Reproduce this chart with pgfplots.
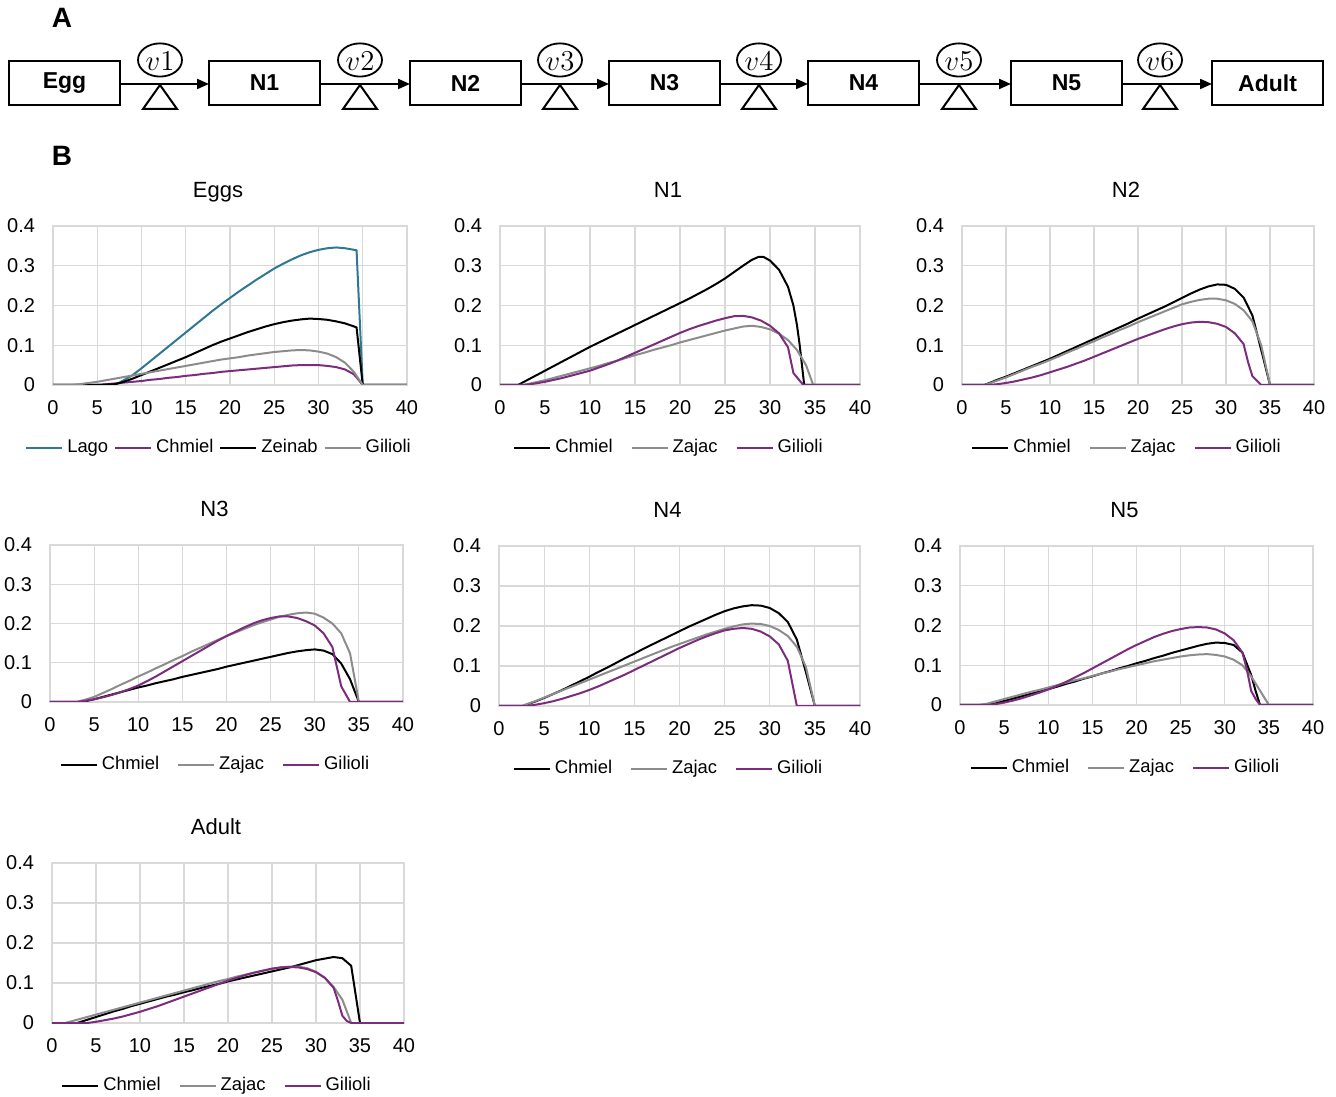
\documentclass[border=0pt]{standalone}
\usepackage{fontspec}
\setmainfont{Liberation Sans}
\usepackage{pgfplots}
\pgfplotsset{compat=1.18}
\usetikzlibrary{arrows.meta}
\definecolor{gridc}{HTML}{D9D9D9}
\definecolor{lago}{HTML}{2F7893}
\definecolor{purp}{HTML}{7B2C7E}
\definecolor{grayc}{HTML}{8C8C8C}
\pgfplotsset{
  stage/.style={
    scale only axis, anchor=south west,
    xmin=0, xmax=40, ymin=0, ymax=0.4,
    xtick={0,5,...,40}, ytick={0,0.1,0.2,0.3,0.4},
    grid=major, grid style={draw=gridc, line width=0.6pt},
    axis line style={draw=gridc, line width=0.6pt},
    major tick length=0pt,
    no markers,
    /pgf/number format/assume math mode=true,
    tick label style={font=\fontsize{10}{12}\selectfont},
    xticklabel style={yshift=-4.2pt},
    yticklabel style={xshift=-5.5pt},
    title style={at={(0.5,1)}, anchor=base, xshift=-6pt, yshift=8.3pt, font=\fontsize{11}{13}\selectfont},
    legend style={at={(0.5,0)}, anchor=north, xshift=-5pt, yshift=-25pt, draw=none, fill=none,
      inner sep=0pt, legend columns=-1, font=\fontsize{9.2}{11}\selectfont,
      /tikz/every even column/.append style={column sep=7pt}},
    legend image code/.code={\draw[#1] (0pt,0pt) -- (18pt,0pt);},
    every axis plot/.append style={line width=1pt, line join=round},
  }
}
\begin{document}
\begin{tikzpicture}
\useasboundingbox (0,0) rectangle (668pt,548pt);
% ---------- panel A: stage diagram ----------
\begin{scope}[yshift=548pt, x=0.5pt, y=-0.5pt]
  \node[font=\fontsize{14}{16}\selectfont\bfseries] at (62,18) {A};
  \node[font=\fontsize{14}{16}\selectfont\bfseries] at (62,156) {B};
  \foreach \bx/\lab in {9/Egg,209/N1,410/N2,609/N3,808/N4,1011/N5,1212/Adult}{
    \draw[line width=1pt] (\bx,61) rectangle ({\bx+111},105);
    \node[font=\fontsize{11.5}{13}\selectfont\bfseries] at ({\bx+55.5},83) {\lab};
  }
  \foreach \ax/\bx in {120/209,320/410,521/609,720/808,919/1011,1122/1212}{
    \draw[line width=1pt,-{Triangle[length=6pt,width=5pt]}] (\ax,84) -- (\bx,84);
  }
  \foreach \cx/\v in {160/1,360/2,560/3,759/4,959/5,1160/6}{
    \draw[line width=0.9pt] (\cx,60) ellipse [x radius=11pt, y radius=8.3pt];
    \node[font=\fontsize{14}{16}\selectfont] at (\cx,61) {$v\v$};
    \draw[line width=1pt, line join=miter] (\cx,85) -- ({\cx-17},109) -- ({\cx+17},109) -- cycle;
  }
\end{scope}
% ---------- Eggs ----------
\begin{axis}[stage, at={(26.5pt,355.5pt)}, width=177pt, height=79.5pt, title={Eggs},
  legend style={/tikz/every even column/.append style={column sep=1pt}}]
\addplot[lago] coordinates {(0,0)(7,0)(8,0.012)(9,0.025)(10,0.042)(11,0.06)(12,0.078)(13,0.096)(14,0.114)(15,0.132)(16,0.15)(17,0.168)(18,0.186)(19,0.203)(20,0.219)(21,0.235)(22,0.25)(23,0.265)(24,0.279)(25,0.293)(26,0.305)(27,0.316)(28,0.326)(29,0.334)(30,0.34)(31,0.344)(32,0.346)(33,0.344)(34.3,0.339)(35,0)(40,0)};
\addlegendentry{Lago}
\addplot[purp] coordinates {(0,0)(5,0)(6,0.002)(7,0.004)(8,0.006)(9,0.008)(10,0.01)(11,0.013)(12,0.015)(13,0.018)(14,0.02)(15,0.023)(16,0.025)(17,0.028)(18,0.03)(19,0.033)(20,0.035)(21,0.037)(22,0.039)(23,0.041)(24,0.043)(25,0.045)(26,0.047)(27,0.049)(28,0.05)(29,0.05)(30,0.05)(31,0.048)(32,0.045)(33,0.039)(34,0.027)(35,0)(40,0)};
\addlegendentry{Chmiel}
\addplot[black] coordinates {(0,0)(5,0)(7,0.002)(8,0.008)(9,0.016)(10,0.025)(11,0.034)(12,0.043)(13,0.052)(14,0.061)(15,0.07)(16,0.08)(17,0.09)(18,0.1)(19,0.109)(20,0.117)(21,0.125)(22,0.133)(23,0.14)(24,0.147)(25,0.153)(26,0.158)(27,0.162)(28,0.165)(29,0.167)(30,0.166)(31,0.164)(32,0.16)(33,0.155)(34.3,0.145)(35,0)(40,0)};
\addlegendentry{Zeinab}
\addplot[grayc] coordinates {(0,0)(2,0)(3,0.002)(4,0.005)(5,0.008)(6,0.012)(7,0.016)(8,0.02)(9,0.024)(10,0.028)(11,0.032)(12,0.036)(13,0.04)(14,0.044)(15,0.048)(16,0.052)(17,0.056)(18,0.06)(19,0.064)(20,0.067)(21,0.07)(22,0.074)(23,0.077)(24,0.08)(25,0.083)(26,0.085)(27,0.087)(28,0.088)(29,0.087)(30,0.084)(31,0.079)(32,0.07)(33,0.056)(34,0.033)(35,0)(40,0)};
\addlegendentry{Gilioli}
\end{axis}
% ---------- N1 ----------
\begin{axis}[stage, at={(250pt,355.5pt)}, width=180pt, height=79.5pt, title={N1}]
\addplot[black] coordinates {(0,0)(2,0)(3,0.012)(4,0.024)(5,0.036)(6,0.048)(7,0.06)(8,0.072)(9,0.084)(10,0.096)(11,0.107)(12,0.118)(13,0.129)(14,0.14)(15,0.151)(16,0.162)(17,0.173)(18,0.184)(19,0.195)(20,0.206)(21,0.217)(22,0.229)(23,0.241)(24,0.254)(25,0.268)(26,0.284)(27,0.3)(28,0.315)(28.7,0.322)(29.3,0.322)(30,0.313)(31,0.29)(32,0.247)(32.6,0.2)(33,0.15)(33.3,0.1)(33.8,0)(40,0)};
\addlegendentry{Chmiel}
\addplot[grayc] coordinates {(0,0)(2.5,0)(3,0.002)(4,0.007)(5,0.012)(6,0.018)(7,0.024)(8,0.03)(9,0.036)(10,0.042)(11,0.048)(12,0.055)(13,0.061)(14,0.068)(15,0.075)(16,0.081)(17,0.088)(18,0.094)(19,0.1)(20,0.107)(21,0.113)(22,0.119)(23,0.125)(24,0.131)(25,0.137)(26,0.142)(27,0.147)(28,0.149)(29,0.146)(30,0.14)(31,0.129)(32,0.113)(33,0.088)(34,0.05)(34.8,0)(40,0)};
\addlegendentry{Zajac}
\addplot[purp] coordinates {(0,0)(2.5,0)(3,0.001)(4,0.004)(5,0.008)(6,0.013)(7,0.018)(8,0.024)(9,0.03)(10,0.036)(11,0.044)(12,0.052)(13,0.061)(14,0.071)(15,0.081)(16,0.091)(17,0.101)(18,0.111)(19,0.121)(20,0.131)(21,0.14)(22,0.148)(23,0.155)(24,0.162)(25,0.168)(26,0.173)(27,0.174)(28,0.17)(29,0.162)(30,0.149)(31,0.13)(32,0.095)(32.6,0.03)(33.7,0)(40,0)};
\addlegendentry{Gilioli}
\end{axis}
% ---------- N2 ----------
\begin{axis}[stage, at={(481pt,355.5pt)}, width=176pt, height=79.5pt, title={N2}]
\addplot[black] coordinates {(0,0)(2.5,0)(3,0.004)(4,0.013)(5,0.021)(6,0.03)(7,0.039)(8,0.048)(9,0.057)(10,0.066)(11,0.076)(12,0.086)(13,0.096)(14,0.106)(15,0.116)(16,0.126)(17,0.136)(18,0.146)(19,0.156)(20,0.167)(21,0.177)(22,0.187)(23,0.197)(24,0.208)(25,0.219)(26,0.23)(27,0.24)(28,0.248)(29,0.253)(30,0.252)(31,0.242)(32,0.22)(33,0.175)(34,0.088)(35,0)(40,0)};
\addlegendentry{Chmiel}
\addplot[grayc] coordinates {(0,0)(2.5,0)(3,0.003)(4,0.011)(5,0.019)(6,0.028)(7,0.037)(8,0.046)(9,0.054)(10,0.063)(11,0.072)(12,0.082)(13,0.091)(14,0.101)(15,0.11)(16,0.12)(17,0.129)(18,0.139)(19,0.148)(20,0.158)(21,0.167)(22,0.176)(23,0.185)(24,0.194)(25,0.203)(26,0.209)(27,0.214)(28,0.217)(29,0.217)(30,0.213)(31,0.204)(32,0.188)(33,0.16)(34,0.1)(35,0)(40,0)};
\addlegendentry{Zajac}
\addplot[purp] coordinates {(0,0)(3,0)(4,0.002)(5,0.005)(6,0.009)(7,0.014)(8,0.019)(9,0.025)(10,0.032)(11,0.039)(12,0.046)(13,0.054)(14,0.062)(15,0.071)(16,0.08)(17,0.089)(18,0.098)(19,0.107)(20,0.116)(21,0.124)(22,0.132)(23,0.14)(24,0.147)(25,0.153)(26,0.157)(27,0.159)(28,0.158)(29,0.154)(30,0.146)(31,0.13)(32,0.103)(32.5,0.058)(33,0.022)(34,0)(40,0)};
\addlegendentry{Gilioli}
\end{axis}
% ---------- N3 ----------
\begin{axis}[stage, at={(25pt,197pt)}, width=176.5pt, height=78.5pt, title={N3}]
\addplot[black] coordinates {(0,0)(3.5,0)(4,0.002)(5,0.007)(6,0.013)(7,0.019)(8,0.025)(9,0.031)(10,0.037)(11,0.042)(12,0.048)(13,0.053)(14,0.058)(15,0.064)(16,0.069)(17,0.074)(18,0.079)(19,0.084)(20,0.09)(21,0.095)(22,0.1)(23,0.105)(24,0.11)(25,0.115)(26,0.12)(27,0.125)(28,0.129)(29,0.132)(30,0.134)(31,0.131)(32,0.122)(33,0.098)(34,0.058)(35,0)(40,0)};
\addlegendentry{Chmiel}
\addplot[grayc] coordinates {(0,0)(3,0)(4,0.006)(5,0.013)(6,0.023)(7,0.033)(8,0.044)(9,0.054)(10,0.065)(11,0.075)(12,0.086)(13,0.096)(14,0.107)(15,0.117)(16,0.128)(17,0.138)(18,0.148)(19,0.158)(20,0.168)(21,0.177)(22,0.186)(23,0.195)(24,0.203)(25,0.21)(26,0.217)(27,0.222)(28,0.226)(29,0.228)(30,0.225)(31,0.215)(32,0.2)(33,0.175)(34,0.124)(35,0)(40,0)};
\addlegendentry{Zajac}
\addplot[purp] coordinates {(0,0)(3,0)(4,0.003)(5,0.007)(6,0.012)(7,0.018)(8,0.025)(9,0.033)(10,0.042)(11,0.053)(12,0.065)(13,0.078)(14,0.091)(15,0.104)(16,0.117)(17,0.13)(18,0.143)(19,0.156)(20,0.168)(21,0.179)(22,0.19)(23,0.2)(24,0.208)(25,0.214)(26,0.218)(27,0.218)(28,0.214)(29,0.206)(30,0.195)(31,0.175)(32,0.14)(32.5,0.09)(33,0.04)(34,0)(40,0)};
\addlegendentry{Gilioli}
\end{axis}
% ---------- N4 ----------
\begin{axis}[stage, at={(249.5pt,195pt)}, width=180.5pt, height=80pt, title={N4}]
\addplot[black] coordinates {(0,0)(2.8,0)(3,0.003)(4,0.011)(5,0.02)(6,0.03)(7,0.04)(8,0.051)(9,0.062)(10,0.073)(11,0.085)(12,0.096)(13,0.108)(14,0.12)(15,0.131)(16,0.143)(17,0.154)(18,0.165)(19,0.176)(20,0.187)(21,0.198)(22,0.208)(23,0.218)(24,0.228)(25,0.237)(26,0.244)(27,0.249)(28,0.252)(29,0.251)(30,0.245)(31,0.232)(32,0.21)(33,0.166)(34,0.085)(35,0)(40,0)};
\addlegendentry{Chmiel}
\addplot[grayc] coordinates {(0,0)(2.5,0)(3,0.004)(4,0.012)(5,0.021)(6,0.03)(7,0.039)(8,0.048)(9,0.057)(10,0.066)(11,0.075)(12,0.084)(13,0.093)(14,0.102)(15,0.111)(16,0.12)(17,0.129)(18,0.138)(19,0.147)(20,0.155)(21,0.163)(22,0.171)(23,0.179)(24,0.186)(25,0.193)(26,0.199)(27,0.204)(28,0.206)(29,0.205)(30,0.2)(31,0.19)(32,0.175)(33,0.148)(34,0.098)(35,0)(40,0)};
\addlegendentry{Zajac}
\addplot[purp] coordinates {(0,0)(3,0)(4,0.003)(5,0.007)(6,0.012)(7,0.018)(8,0.025)(9,0.032)(10,0.04)(11,0.049)(12,0.059)(13,0.069)(14,0.079)(15,0.09)(16,0.101)(17,0.112)(18,0.123)(19,0.134)(20,0.145)(21,0.155)(22,0.165)(23,0.174)(24,0.182)(25,0.189)(26,0.193)(27,0.195)(28,0.193)(29,0.186)(30,0.174)(31,0.154)(32,0.113)(33,0)(40,0)};
\addlegendentry{Gilioli}
\end{axis}
% ---------- N5 ----------
\begin{axis}[stage, at={(480pt,195.5pt)}, width=176.5pt, height=79.5pt, title={N5}]
\addplot[black] coordinates {(0,0)(3,0)(4,0.004)(5,0.01)(6,0.016)(7,0.022)(8,0.028)(9,0.034)(10,0.04)(11,0.046)(12,0.053)(13,0.059)(14,0.066)(15,0.072)(16,0.079)(17,0.085)(18,0.092)(19,0.098)(20,0.105)(21,0.111)(22,0.118)(23,0.124)(24,0.131)(25,0.137)(26,0.143)(27,0.149)(28,0.154)(29,0.157)(30,0.156)(31,0.151)(32,0.132)(33,0.075)(33.5,0.035)(34,0)(40,0)};
\addlegendentry{Chmiel}
\addplot[grayc] coordinates {(0,0)(2,0)(3,0.003)(4,0.009)(5,0.015)(6,0.021)(7,0.027)(8,0.033)(9,0.038)(10,0.044)(11,0.05)(12,0.056)(13,0.062)(14,0.067)(15,0.073)(16,0.079)(17,0.084)(18,0.09)(19,0.095)(20,0.1)(21,0.105)(22,0.11)(23,0.114)(24,0.118)(25,0.122)(26,0.125)(27,0.127)(28,0.128)(29,0.126)(30,0.122)(31,0.114)(32,0.1)(33,0.072)(34,0.036)(35,0)(40,0)};
\addlegendentry{Zajac}
\addplot[purp] coordinates {(0,0)(3,0)(4,0.002)(5,0.006)(6,0.011)(7,0.017)(8,0.024)(9,0.031)(10,0.039)(11,0.048)(12,0.058)(13,0.069)(14,0.08)(15,0.092)(16,0.104)(17,0.116)(18,0.128)(19,0.14)(20,0.151)(21,0.161)(22,0.171)(23,0.179)(24,0.186)(25,0.191)(26,0.195)(27,0.196)(28,0.195)(29,0.19)(30,0.18)(31,0.163)(32,0.132)(32.5,0.09)(33,0.035)(33.5,0.015)(34,0)(40,0)};
\addlegendentry{Gilioli}
\end{axis}
% ---------- Adult ----------
\begin{axis}[stage, at={(26pt,36.5pt)}, width=176pt, height=80pt, title={Adult}]
\addplot[black] coordinates {(0,0)(2.8,0)(3,0.001)(4,0.008)(5,0.015)(6,0.022)(7,0.029)(8,0.035)(9,0.042)(10,0.048)(11,0.054)(12,0.06)(13,0.066)(14,0.071)(15,0.077)(16,0.082)(17,0.088)(18,0.093)(19,0.098)(20,0.104)(21,0.109)(22,0.114)(23,0.119)(24,0.124)(25,0.129)(26,0.134)(27,0.139)(28,0.145)(29,0.151)(30,0.157)(31,0.161)(32,0.165)(33,0.162)(34,0.143)(35,0)(40,0)};
\addlegendentry{Chmiel}
\addplot[grayc] coordinates {(0,0)(1.5,0)(2,0.003)(3,0.009)(4,0.015)(5,0.021)(6,0.027)(7,0.033)(8,0.039)(9,0.045)(10,0.051)(11,0.057)(12,0.063)(13,0.069)(14,0.075)(15,0.081)(16,0.087)(17,0.093)(18,0.099)(19,0.105)(20,0.11)(21,0.116)(22,0.121)(23,0.126)(24,0.131)(25,0.135)(26,0.139)(27,0.141)(28,0.141)(29,0.137)(30,0.128)(31,0.113)(32,0.09)(33,0.058)(34,0)(40,0)};
\addlegendentry{Zajac}
\addplot[purp] coordinates {(0,0)(4,0)(5,0.003)(6,0.007)(7,0.011)(8,0.016)(9,0.022)(10,0.028)(11,0.035)(12,0.042)(13,0.05)(14,0.058)(15,0.066)(16,0.074)(17,0.082)(18,0.09)(19,0.098)(20,0.106)(21,0.113)(22,0.12)(23,0.126)(24,0.131)(25,0.136)(26,0.139)(27,0.14)(28,0.139)(29,0.135)(30,0.127)(31,0.113)(32,0.088)(32.5,0.055)(33,0.018)(33.5,0.005)(34,0)(40,0)};
\addlegendentry{Gilioli}
\end{axis}
\end{tikzpicture}
\end{document}
